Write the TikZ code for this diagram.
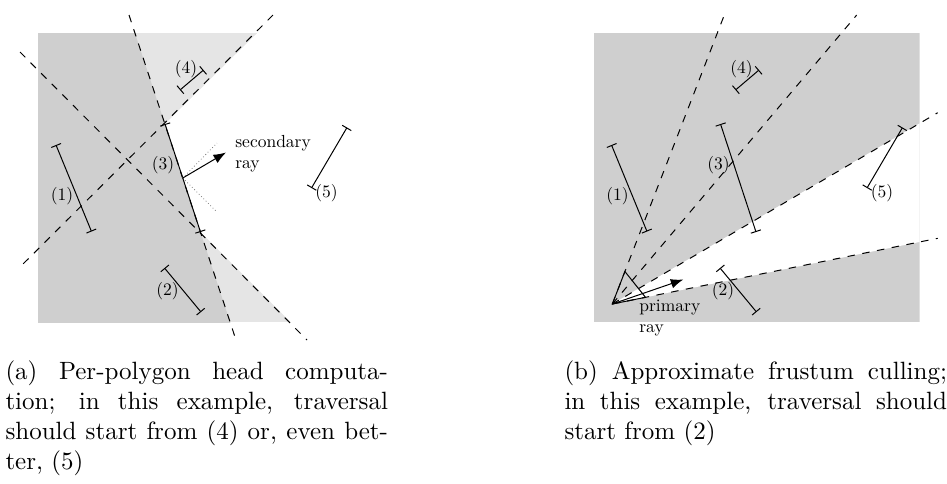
\documentclass[tikz,border=0pt]{standalone}
\usepackage{tikz}
\usetikzlibrary{arrows.meta,calc}

\definecolor{shadow}{gray}{0.81}
\definecolor{halfshadow}{gray}{0.9}

\tikzset{
  poly/.style={{Bar[width=4.2pt]}-{Bar[width=4.2pt]}},
  plane/.style={dashed},
  ray/.style={-{Latex[length=5pt,width=3.8pt]}},
  cone/.style={densely dotted,black!55,line width=0.3pt},
  num/.style={inner sep=0pt,scale=0.7,transform shape},
  capt/.style={anchor=base west,inner sep=0pt,text width=153pt,align=justify},
}

\begin{document}
\begin{tikzpicture}[x=0.4pt,y=-0.4pt]
  \useasboundingbox (0,0) rectangle (947,483);

  % (a) per-polygon head
  \coordinate (ap3s) at (165,124);
  \coordinate (ap3e) at (200.5,232);
  \coordinate (amid) at ($(ap3s)!0.5!(ap3e)$);
  \coordinate (al3a) at (129,15);
  \coordinate (al3b) at (236,340);
  \coordinate (alua) at (273,15);
  \coordinate (alub) at (20,267);
  \coordinate (alda) at (20,52);
  \coordinate (aldb) at (307,340);
  \begin{scope}
    \clip (38,33) rectangle (364,322);
    \fill[halfshadow] (38,33) rectangle (364,322);
    \fill[white] (ap3s) -- ($(ap3s)!-3!(alub)$) -- ($(ap3e)!-3!(alda)$) -- (ap3e) -- cycle;
    \fill[shadow] (al3a) -- (al3b) -- (0,340) -- (0,15) -- cycle;
  \end{scope}
  \draw[plane] (al3a) -- (al3b);
  \draw[plane] (alua) -- (alub);
  \draw[plane] (alda) -- (aldb);

  \foreach \n/\ax/\ay/\bx/\by/\lx/\ly in {
      1/56/145/91.5/231.5/62/196.5,
      2/164.5/268/201/312/167.5/291,
      4/180/90/203.5/70/186/69,
      5/347/127.5/311.5/188/326.5/193}
  {
    \coordinate (ap\n s) at (\ax,\ay);
    \coordinate (ap\n e) at (\bx,\by);
    \draw[poly] (ap\n s) -- (ap\n e);
    \node[num] (a\n) at (\lx,\ly) {(\n)};
  }
  \draw[poly] (ap3s) -- (ap3e);
  \node[num] (a3) at (163,165) {(3)};

  \coordinate (asec) at (226,152.5);
  \coordinate (acu) at (217,143);
  \coordinate (acd) at (217,212);
  \draw[cone] (amid) -- (acu) (amid) -- (acd);
  \draw[ray] (amid) -- (asec);
  \node[num,anchor=base west,align=left] (aseclbl) at (235,168.5) {secondary\\ray};

  % (b) frustum culling
  \begin{scope}[xshift=222.2pt]
    \coordinate (eye) at (56.8,304);
    \coordinate (r1) at (168.8,15);
    \coordinate (r2) at (301.2,15);
    \coordinate (r3) at (382.2,112.7);
    \coordinate (r4) at (382.2,238.3);
    \begin{scope}
      \clip (38,33) rectangle (364,322);
      \fill[shadow] (38,33) rectangle (364,322);
      \fill[white] (eye) -- (r3) -- (r4) -- cycle;
    \end{scope}
    \foreach \r in {1,...,4}
      \draw[plane] (eye) -- (r\r);

    \foreach \n/\ax/\ay/\bx/\by/\lx/\ly in {
        1/56/145/91.5/231.5/62/196.5,
        2/164.5/268/201/312/167.5/291,
        3/165/124/200.5/232/163/165,
        4/180/90/203.5/70/186/69,
        5/347/127.5/311.5/188/326.5/193}
    {
      \coordinate (bp\n s) at (\ax,\ay);
      \coordinate (bp\n e) at (\bx,\by);
      \draw[poly] (bp\n s) -- (bp\n e);
      \node[num] (b\n) at (\lx,\ly) {(\n)};
    }

    \coordinate (t1) at ($(eye)!0.1125!(r1)$);
    \coordinate (t2) at ($(eye)!0.102!(r4)$);
    \draw (eye) -- (t1) -- (t2) -- cycle;
    \coordinate (prim) at (127.8,279.5);
    \draw[ray] (eye) -- (prim);
    \node[num,anchor=base west,align=left] (primlbl) at (83.5,332) {primary\\ray};
  \end{scope}

  % captions
  \node[capt] (capa) at (5,379) {(a) Per-polygon head computa-\linebreak tion; in this example, traversal\linebreak should start from (4) or, even bet-\linebreak ter, (5)};
  \node[capt] (capb) at (564,379) {(b) Approximate frustum culling;\linebreak in this example, traversal should\linebreak start from (2)};
\end{tikzpicture}
\end{document}
